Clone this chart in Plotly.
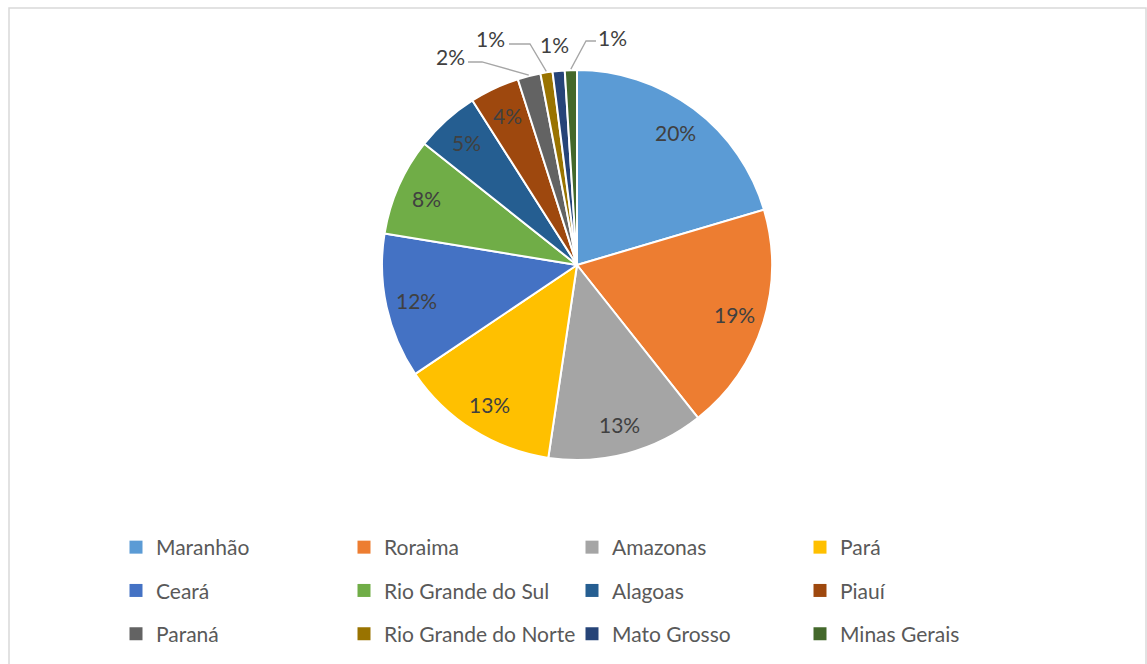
import math
import plotly.graph_objects as go

# ---- data ----
states = ["Maranhão", "Roraima", "Amazonas", "Pará", "Ceará", "Rio Grande do Sul",
          "Alagoas", "Piauí", "Paraná", "Rio Grande do Norte", "Mato Grosso", "Minas Gerais"]
shares = [20.4, 18.9, 13.0, 13.2, 12.0, 8.1, 5.3, 4.1, 1.9, 1.0, 1.0, 1.0]
colors = ["#5B9BD5", "#ED7D31", "#A5A5A5", "#FFC000", "#4472C4", "#70AD47",
          "#255E91", "#9E480E", "#636363", "#997300", "#264478", "#43682B"]

# ---- layout constants (pixels) ----
W, H = 1147, 664
CX, CY, R = 577, 265, 195
FONT = "Lato"
FS = 21
TXT = "#404040"
LEG_TXT = "#595959"

def px(x):
    return x / W

def py(y):
    return 1 - y / H

total = sum(shares)
pct = [f"{round(v / total * 100)}%" for v in shares]

fig = go.Figure()
fig.add_trace(go.Pie(
    labels=states, values=shares, sort=False, direction="clockwise", rotation=0,
    marker=dict(colors=colors, line=dict(color="white", width=2)),
    textinfo="none", hoverinfo="label+percent", showlegend=False,
    domain=dict(x=[px(CX - R), px(CX + R)], y=[py(CY + R), py(CY - R)]),
))

# mid angles (clockwise from 12 o'clock)
mids = []
acc = 0.0
for v in shares:
    a0 = acc / total * 360
    acc += v
    a1 = acc / total * 360
    mids.append((a0 + a1) / 2)

annotations = []
shapes = []
# outside labels for the smallest slices: label centre and elbow points
outside = {
    8: ((450, 57), [(468, 62), (482, 62)]),
    9: ((490, 39), [(509, 44), (530, 44)]),
    10: ((554, 44), None),
    11: ((612, 37), [(596, 41), (586, 41)]),
}
lab_font = dict(family=FONT, size=FS, color=TXT)
for i, (m, t) in enumerate(zip(mids, pct)):
    th = math.radians(m)
    if i in outside:
        (lx, ly), elbow = outside[i]
        annotations.append(dict(x=px(lx), y=py(ly), xref="paper", yref="paper", text=t,
                                xanchor="center", yanchor="middle",
                                showarrow=False, font=lab_font))
        if elbow:
            ex = CX + (R + 1) * math.sin(th)
            ey = CY - (R + 1) * math.cos(th)
            pts = elbow + [(ex, ey)]
            path = "M " + " L ".join(f"{px(a):.5f},{py(b):.5f}" for a, b in pts)
            shapes.append(dict(type="path", path=path, xref="paper", yref="paper",
                               line=dict(color="#A6A6A6", width=1.3)))
    else:
        rr = 0.845 * R
        x = CX + rr * math.sin(th)
        y = CY - rr * math.cos(th)
        annotations.append(dict(x=px(x), y=py(y), xref="paper", yref="paper", text=t,
                                xanchor="center", yanchor="middle",
                                showarrow=False, font=lab_font))

# chart border
shapes.append(dict(type="rect", xref="paper", yref="paper",
                   x0=px(9), x1=px(1146), y0=py(H + 5), y1=py(8),
                   line=dict(color="#D9D9D9", width=1.5)))

# legend: 4 columns x 3 rows, one legend per column
col_x = [130, 358, 586, 814]
row_y0 = 546
legends = {}
for c in range(4):
    name = "legend" if c == 0 else f"legend{c + 1}"
    legends[name] = dict(
        x=px(col_x[c] - 14), y=py(row_y0 - 19), xanchor="left", yanchor="top",
        orientation="v", bgcolor="rgba(0,0,0,0)", borderwidth=0,
        font=dict(family=FONT, size=FS, color=LEG_TXT),
        tracegroupgap=13, itemclick=False, itemdoubleclick=False,
    )
for i, (s, col) in enumerate(zip(states, colors)):
    c = i % 4
    name = "legend" if c == 0 else f"legend{c + 1}"
    fig.add_trace(go.Scatter(
        x=[None], y=[None], mode="markers", name=s, legend=name, legendgroup=f"g{i}",
        marker=dict(symbol="square", size=13, color=col), showlegend=True, hoverinfo="skip",
    ))

fig.update_layout(
    width=W, height=H, margin=dict(l=0, r=0, t=0, b=0),
    paper_bgcolor="white", plot_bgcolor="white",
    xaxis=dict(visible=False), yaxis=dict(visible=False),
    annotations=annotations, shapes=shapes,
    **legends,
)
fig.write_html("out.html", config={"displayModeBar": False},
               post_script="document.body.style.margin='0';document.body.style.overflow='hidden';")
